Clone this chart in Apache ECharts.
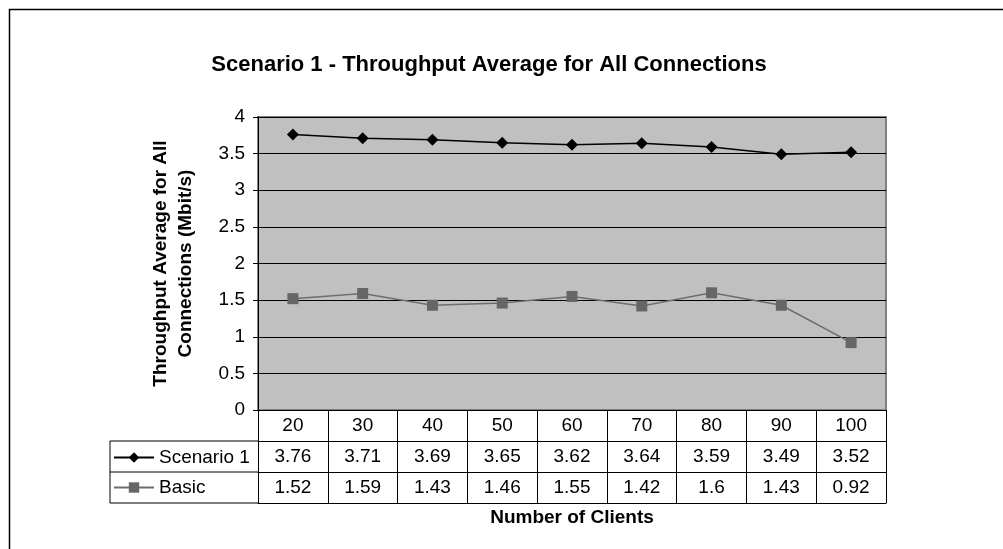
<!DOCTYPE html>
<html>
<head>
<meta charset="utf-8">
<script src="https://cdn.jsdelivr.net/npm/echarts@6/dist/echarts.min.js"></script>
<style>
  html, body { margin: 0; padding: 0; background: #fff; }
  #chart { width: 1003px; height: 549px; }
</style>
</head>
<body>
<div id="chart"></div>
<script>
// Number of clients (category axis / table header)
const clients = ['20', '30', '40', '50', '60', '70', '80', '90', '100'];
// Average throughput per connection, Mbit/s
const scenario1 = [3.76, 3.71, 3.69, 3.65, 3.62, 3.64, 3.59, 3.49, 3.52];
const basic = [1.52, 1.59, 1.43, 1.46, 1.55, 1.42, 1.6, 1.43, 0.92];
const yTicks = { min: 0, max: 4, interval: 0.5 };

const FONT = '"Liberation Sans", Arial, sans-serif';
const LABEL_SIZE = 19;
const W = 1003, H = 549;
const G = { left: 258, right: 117, top: 117, bottom: 139 };
const ROW = 31;                    // data-table row height
const axisBottomY = H - G.bottom;  // y of the category axis line
const headLeft = 110;              // left edge of the row-header column

const chart = echarts.init(document.getElementById('chart'), null, { renderer: 'canvas' });

// One category axis per table row; ticks at category boundaries draw the cell walls
function tableAxis(offset, formatter, showTicks) {
  return {
    type: 'category',
    data: clients,
    position: 'bottom',
    offset: offset,
    boundaryGap: true,
    axisLine: { show: true, lineStyle: { color: '#000', width: 1 } },
    axisTick: { show: showTicks, interval: 0, length: ROW, inside: false,
                lineStyle: { color: '#000', width: 1 } },
    axisLabel: { show: !!formatter, interval: 0, margin: 6, fontSize: LABEL_SIZE,
                 color: '#000', fontFamily: FONT,
                 formatter: formatter || undefined },
    splitLine: { show: false }
  };
}

const xAxes = [
  tableAxis(0, (v) => v, true),
  tableAxis(ROW, (v, i) => String(scenario1[i]), true),
  tableAxis(ROW * 2, (v, i) => String(basic[i]), true),
  Object.assign(tableAxis(ROW * 3, null, false), {
    name: 'Number of Clients',
    nameLocation: 'middle',
    nameGap: 5,
    nameTextStyle: { fontSize: 19, fontWeight: 'bold', color: '#000', fontFamily: FONT,
                     verticalAlign: 'top' }
  })
];

// Row-header column of the data table
const hy1 = axisBottomY + ROW, hy2 = axisBottomY + ROW * 2, hy3 = axisBottomY + ROW * 3;
const lineStyle = { stroke: '#000', lineWidth: 1 };
const graphics = [
  { type: 'rect', left: 7, top: 7, shape: { x: 0, y: 0, width: W, height: H },
    style: { fill: 'none', stroke: '#000', lineWidth: 1.5 }, silent: true, z: -1 },
  { type: 'line', shape: { x1: headLeft, y1: hy1, x2: G.left, y2: hy1 }, style: lineStyle },
  { type: 'line', shape: { x1: headLeft, y1: hy2, x2: G.left, y2: hy2 }, style: lineStyle },
  { type: 'line', shape: { x1: headLeft, y1: hy3, x2: G.left, y2: hy3 }, style: lineStyle },
  { type: 'line', shape: { x1: headLeft, y1: hy1, x2: headLeft, y2: hy3 }, style: lineStyle }
];

chart.setOption({
  backgroundColor: '#fff',
  animation: false,
  textStyle: { fontFamily: FONT },
  title: {
    text: 'Scenario 1 - Throughput Average for All Connections',
    left: 484, top: 49, textAlign: 'center',
    textStyle: { fontSize: 22, fontWeight: 'bold', color: '#000', fontFamily: FONT }
  },
  legend: {
    data: ['Scenario 1', 'Basic'],
    orient: 'vertical',
    left: 113, top: axisBottomY + ROW + 7,
    padding: 0,
    itemWidth: 40, itemHeight: 13, itemGap: ROW - 20,
    textStyle: { fontSize: LABEL_SIZE, color: '#000', fontFamily: FONT }
  },
  grid: {
    left: G.left, right: G.right, top: G.top, bottom: G.bottom,
    show: true, backgroundColor: '#C0C0C0', borderColor: '#808080', borderWidth: 2
  },
  xAxis: xAxes,
  yAxis: {
    type: 'value',
    min: yTicks.min, max: yTicks.max, interval: yTicks.interval,
    name: 'Throughput Average for All\nConnections (Mbit/s)',
    nameLocation: 'middle', nameRotate: 90, nameGap: 60,
    nameTextStyle: { fontSize: 19, fontWeight: 'bold', color: '#000', fontFamily: FONT,
                     lineHeight: 25 },
    axisLine: { show: true, lineStyle: { color: '#000', width: 1 } },
    axisTick: { show: true, length: 5, lineStyle: { color: '#000' } },
    axisLabel: { fontSize: LABEL_SIZE, color: '#000', margin: 13, fontFamily: FONT },
    splitLine: { show: true, lineStyle: { color: '#000', width: 1 } }
  },
  series: [
    {
      name: 'Scenario 1', type: 'line', data: scenario1,
      symbol: 'diamond', symbolSize: 12, showAllSymbol: true,
      itemStyle: { color: '#000' }, lineStyle: { color: '#000', width: 1.5 }
    },
    {
      name: 'Basic', type: 'line', data: basic,
      symbol: 'rect', symbolSize: 11, showAllSymbol: true,
      itemStyle: { color: '#666666' }, lineStyle: { color: '#6e6e6e', width: 1.5 }
    }
  ],
  graphic: graphics
});
</script>
</body>
</html>
